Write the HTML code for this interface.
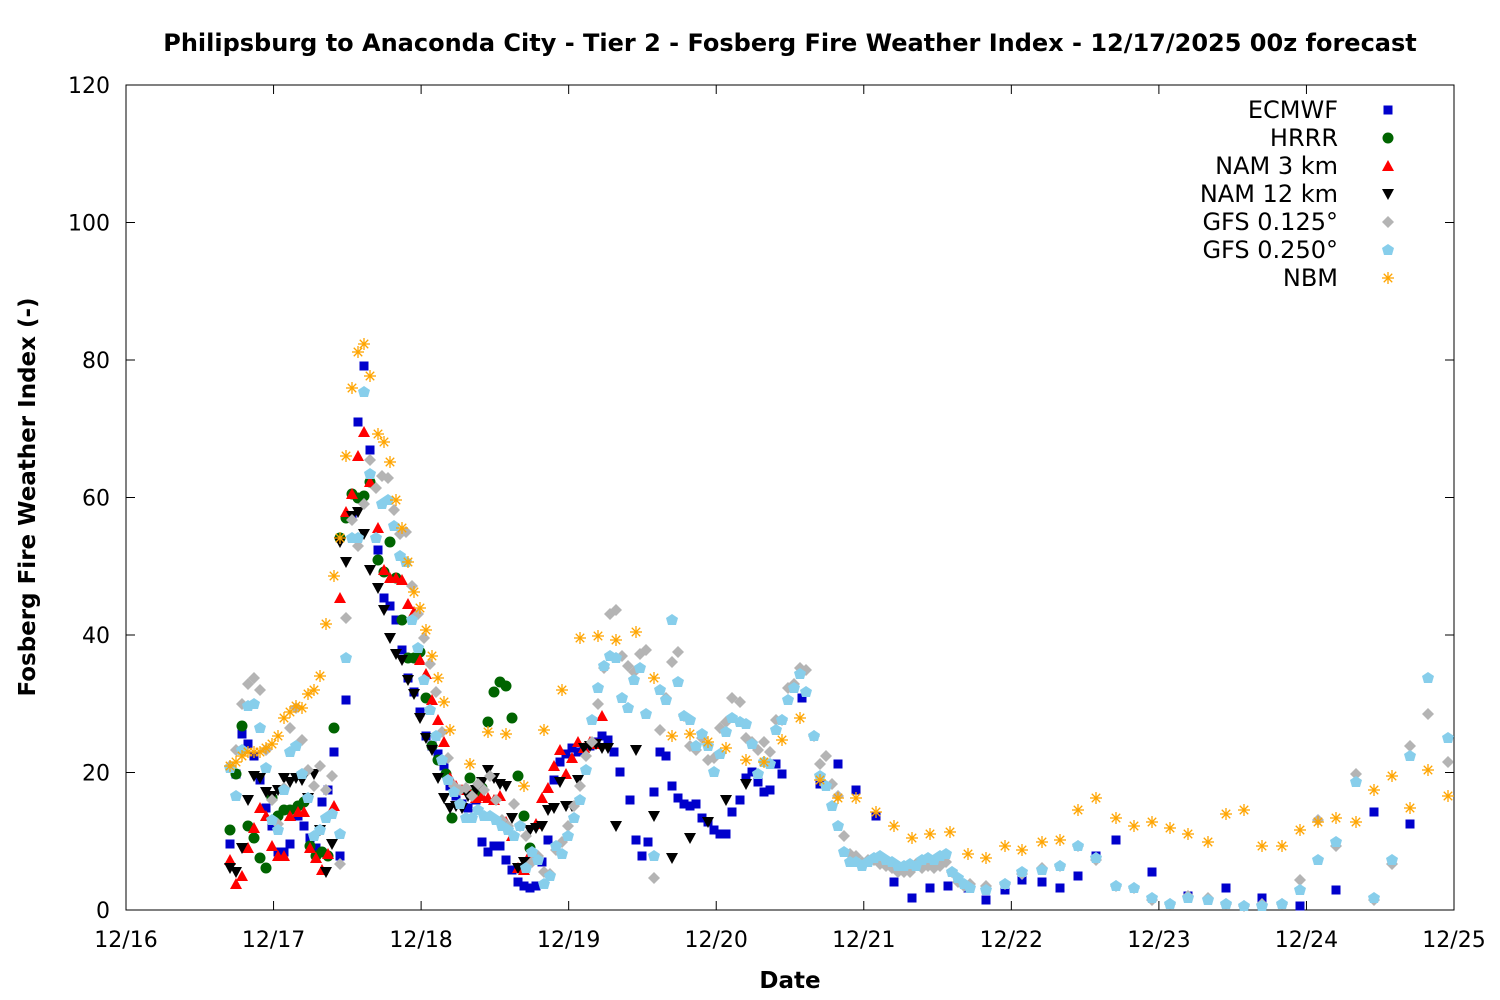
<!DOCTYPE html>
<html><head><meta charset="utf-8"><style>
body{margin:0;background:#fff}
svg{display:block;font-family:"DejaVu Sans","Liberation Sans",sans-serif}
</style></head><body>
<svg id="s" width="1500" height="1000" xmlns="http://www.w3.org/2000/svg">
<rect width="1500" height="1000" fill="#fff"/>
<text x="790" y="51" text-anchor="middle" font-size="24" font-weight="bold">Philipsburg to Anaconda City - Tier 2 - Fosberg Fire Weather Index - 12/17/2025 00z forecast</text>
<rect x="126" y="85" width="1328" height="825" fill="none" stroke="#000" stroke-width="1"/>
<g id="ax" font-size="22"></g>
<text x="790" y="988" text-anchor="middle" font-size="23" font-weight="bold">Date</text>
<text transform="translate(35,497) rotate(-90)" text-anchor="middle" font-size="23" font-weight="bold">Fosberg Fire Weather Index (-)</text>
<g id="pts"></g>
<g font-size="24" text-anchor="end">
<text x="1338" y="118">ECMWF</text>
<text x="1338" y="146">HRRR</text>
<text x="1338" y="174">NAM 3 km</text>
<text x="1338" y="202">NAM 12 km</text>
<text x="1338" y="230">GFS 0.125°</text>
<text x="1338" y="258">GFS 0.250°</text>
<text x="1338" y="286">NBM</text>
</g>
</svg>
<script>
const NS="http://www.w3.org/2000/svg";
const ax=document.getElementById('ax');
function el(t,a,p){const e=document.createElementNS(NS,t);for(const k in a)e.setAttribute(k,a[k]);(p||ax).appendChild(e);return e;}
for(let i=0;i<=6;i++){const y=910-i*137.5;
 el('line',{x1:126,x2:135,y1:y,y2:y,stroke:'#000'});el('line',{x1:1445,x2:1454,y1:y,y2:y,stroke:'#000'});
 const t=el('text',{x:110,y:y+8,'text-anchor':'end'});t.textContent=i*20;}
for(let i=0;i<=9;i++){const x=126+i*147.556;
 el('line',{x1:x,x2:x,y1:910,y2:901,stroke:'#000'});el('line',{x1:x,x2:x,y1:85,y2:94,stroke:'#000'});
 const t=el('text',{x:x,y:947,'text-anchor':'middle'});t.textContent='12/'+(16+i);}
const P=document.getElementById('pts');
function sq(x,y){el('rect',{x:x-4.5,y:y-4.5,width:9,height:9,fill:'#0000cc'},P)}
function ci(x,y){el('circle',{cx:x,cy:y,r:5.5,fill:'#006400'},P)}
function tu(x,y){el('polygon',{points:`${x},${y-6} ${x+6},${y+5} ${x-6},${y+5}`,fill:'#ff0000'},P)}
function td(x,y){el('polygon',{points:`${x},${y+6} ${x+6},${y-5} ${x-6},${y-5}`,fill:'#000'},P)}
function di(x,y){el('polygon',{points:`${x},${y-6} ${x+6},${y} ${x},${y+6} ${x-6},${y}`,fill:'#b4b4b4'},P)}
function pe(x,y){el('polygon',{points:`${x},${y-6} ${x+6},${y-2} ${x+4},${y+5} ${x-4},${y+5} ${x-6},${y-2}`,fill:'#87ceeb'},P)}
function st(x,y){const g=el('g',{stroke:'#ffa500','stroke-width':1.3},P);
 for(let a=0;a<4;a++){const r=a*Math.PI/4;el('line',{x1:x-6*Math.cos(r),y1:y-6*Math.sin(r),x2:x+6*Math.cos(r),y2:y+6*Math.sin(r)},g)}}
function draw(f,s){s.match(/\d+,\d+/g).map(v=>v.split(',').map(Number)).forEach(p=>f(p[0],p[1]));}
draw(sq,`(230,844),(236,774),(242,734),(248,744),(254,756),(260,780),(266,808),(272,826),(278,852),(284,852),(290,844),(298,816),(304,826),(310,838),(316,848),(322,802),(328,790),(334,752),(340,856),(346,700),(352,516),(358,422),(364,366),(370,450),(378,550),(384,598),(390,606),(396,620),(402,650),(408,678),(414,692),(420,712),(426,736),(432,746),(438,754),(444,766),(450,786),(456,796),(462,804),(468,808),(476,800),(482,842),(488,852),(494,846),(500,846),(506,860),(512,870),(518,882),(524,886),(530,888),(536,886),(542,862),(548,840),(554,780),(560,762),(566,754),(572,748),(578,752),(584,748),(590,746),(596,742),(602,736),(608,740),(614,752),(620,772),(630,800),(636,840),(642,856),(648,842),(654,792),(660,752),(666,756),(672,786),(678,798),(684,804),(690,806),(696,804),(702,818),(708,822),(714,830),(720,834),(726,834),(732,812),(740,800),(746,778),(752,772),(758,782),(764,792),(770,790),(776,764),(782,774),(802,698),(820,784),(838,764),(856,790),(876,816),(894,882),(912,898),(930,888),(948,886),(968,888),(986,900),(1005,890),(1022,880),(1042,882),(1060,888),(1078,876),(1096,856),(1116,840),(1152,872),(1188,896),(1226,888),(1262,898),(1300,906),(1336,890),(1374,812),(1410,824)`);
draw(ci,`(230,830),(236,774),(242,726),(248,826),(254,838),(260,858),(266,868),(272,798),(278,816),(284,810),(290,810),(298,806),(304,802),(310,846),(316,856),(322,852),(328,856),(334,728),(340,538),(346,518),(352,494),(358,498),(364,496),(370,482),(378,560),(384,572),(390,542),(396,578),(402,620),(408,658),(414,658),(420,652),(426,698),(432,746),(438,760),(446,774),(452,818),(470,778),(476,792),(482,788),(488,722),(494,692),(500,682),(506,686),(512,718),(518,776),(524,816),(530,848)`);
draw(tu,`(230,860),(236,884),(242,876),(248,848),(254,828),(260,808),(266,816),(272,846),(278,856),(284,856),(290,816),(298,812),(304,812),(310,848),(316,858),(322,870),(328,854),(334,806),(340,598),(346,512),(352,494),(358,456),(364,432),(370,482),(378,528),(384,570),(390,578),(396,578),(402,580),(408,604),(414,612),(420,660),(426,674),(432,700),(438,720),(444,742),(450,778),(456,786),(462,790),(468,790),(476,798),(482,796),(488,798),(494,800),(500,796),(506,822),(512,836),(518,868),(524,870),(530,854),(536,824),(542,798),(548,788),(554,766),(560,750),(566,774),(572,758),(578,742),(584,748),(590,742),(596,744),(602,716)`);
draw(td,`(230,868),(236,872),(242,848),(248,800),(254,776),(260,778),(266,792),(272,796),(278,790),(284,778),(290,782),(296,778),(302,780),(308,798),(314,774),(320,830),(326,872),(332,844),(340,542),(346,562),(352,516),(358,512),(364,534),(370,570),(378,588),(384,610),(390,638),(396,654),(402,660),(408,680),(414,694),(420,718),(426,738),(432,750),(438,778),(444,798),(450,808),(456,806),(462,808),(468,796),(476,790),(482,782),(488,770),(494,778),(500,784),(506,786),(512,818),(518,868),(524,862),(530,830),(536,828),(542,826),(548,810),(554,808),(560,782),(566,806),(572,806),(578,780),(584,748),(590,746),(596,744),(602,748),(608,748),(616,826),(636,750),(654,816),(672,858),(690,838),(708,822),(726,800),(746,784)`);
draw(di,`(230,766),(236,750),(242,704),(248,684),(254,678),(260,690),(266,750),(272,800),(278,824),(284,788),(290,728),(296,708),(302,740),(308,770),(314,786),(320,766),(326,790),(332,776),(340,864),(346,618),(352,520),(358,546),(364,504),(370,460),(376,488),(382,476),(388,478),(394,510),(400,534),(406,532),(412,586),(418,614),(424,638),(430,664),(436,692),(442,732),(448,758),(454,786),(460,790),(466,788),(472,796),(478,784),(484,790),(490,776),(496,800),(502,820),(508,826),(514,804),(520,826),(526,836),(532,862),(538,856),(544,872),(550,874),(556,850),(562,842),(568,826),(574,806),(580,786),(586,756),(592,742),(598,704),(604,668),(610,614),(616,610),(622,656),(628,666),(634,672),(640,654),(646,650),(654,878),(660,730),(666,698),(672,662),(678,652),(684,716),(690,746),(696,750),(702,738),(708,760),(714,758),(720,728),(726,722),(732,698),(740,702),(746,738),(752,742),(758,750),(764,742),(770,752),(776,720),(782,720),(788,688),(794,684),(800,668),(806,670),(814,736),(820,764),(826,756),(832,784),(838,796),(844,836),(850,854),(856,856),(862,862),(868,860),(874,860),(880,864),(886,866),(892,868),(898,872),(904,872),(910,872),(916,864),(922,868),(928,866),(934,868),(940,866),(946,862),(952,872),(958,882),(964,886),(970,884),(986,886),(1005,884),(1022,874),(1042,868),(1060,866),(1078,846),(1096,860),(1116,886),(1134,888),(1152,900),(1170,904),(1188,896),(1208,898),(1226,904),(1244,906),(1262,904),(1282,904),(1300,880),(1318,820),(1336,846),(1356,774),(1374,900),(1392,864),(1410,746),(1428,714),(1448,762)`);
draw(pe,`(230,768),(236,796),(242,750),(248,706),(254,704),(260,728),(266,768),(272,820),(278,830),(284,790),(290,752),(296,746),(302,774),(308,798),(314,836),(320,830),(326,818),(332,814),(340,834),(346,658),(352,538),(358,538),(364,392),(370,474),(376,538),(382,504),(388,500),(394,526),(400,556),(406,562),(412,620),(418,648),(424,680),(430,710),(436,736),(442,760),(448,780),(454,792),(460,804),(466,818),(472,818),(478,810),(484,816),(490,816),(496,820),(502,826),(508,830),(514,836),(520,826),(526,868),(532,852),(538,860),(544,884),(550,876),(556,846),(562,854),(568,836),(574,818),(580,800),(586,770),(592,720),(598,688),(604,666),(610,656),(616,658),(622,698),(628,708),(634,680),(640,668),(646,714),(654,856),(660,690),(666,700),(672,620),(678,682),(684,716),(690,720),(696,746),(702,734),(708,746),(714,772),(720,754),(726,732),(732,718),(740,722),(746,724),(752,744),(758,774),(764,762),(770,764),(776,730),(782,720),(788,700),(794,688),(800,674),(806,692),(814,736),(820,776),(826,786),(832,806),(838,826),(844,852),(850,862),(856,862),(862,866),(868,862),(874,858),(880,856),(886,860),(892,862),(898,866),(904,866),(910,864),(916,866),(922,860),(928,858),(934,860),(940,856),(946,854),(952,872),(958,878),(964,884),(970,888),(986,890),(1005,884),(1022,872),(1042,870),(1060,866),(1078,846),(1096,858),(1116,886),(1134,888),(1152,898),(1170,904),(1188,898),(1208,900),(1226,904),(1244,906),(1262,906),(1282,904),(1300,890),(1318,860),(1336,842),(1356,782),(1374,898),(1392,860),(1410,756),(1428,678),(1448,738)`);
draw(st,`(230,766),(236,762),(242,756),(248,752),(254,752),(260,752),(266,748),(272,744),(278,736),(284,718),(290,712),(296,706),(302,708),(308,694),(314,690),(320,676),(326,624),(334,576),(340,538),(346,456),(352,388),(358,352),(364,344),(370,376),(378,434),(384,442),(390,462),(396,500),(402,528),(408,562),(414,592),(420,608),(426,630),(432,656),(438,678),(444,702),(450,730),(470,764),(488,732),(506,734),(524,786),(544,730),(562,690),(580,638),(598,636),(616,640),(636,632),(654,678),(672,736),(690,734),(708,742),(726,748),(746,760),(764,762),(782,740),(800,718),(820,780),(838,798),(856,798),(876,812),(894,826),(912,838),(930,834),(950,832),(968,854),(986,858),(1005,846),(1022,850),(1042,842),(1060,840),(1078,810),(1096,798),(1116,818),(1134,826),(1152,822),(1170,828),(1188,834),(1208,842),(1226,814),(1244,810),(1262,846),(1282,846),(1300,830),(1318,822),(1336,818),(1356,822),(1374,790),(1392,776),(1410,808),(1428,770),(1448,796)`);
sq(1388,110);ci(1388,138);tu(1388,166);td(1388,194);di(1388,222);pe(1388,250);st(1388,278);
</script>
</body></html>
